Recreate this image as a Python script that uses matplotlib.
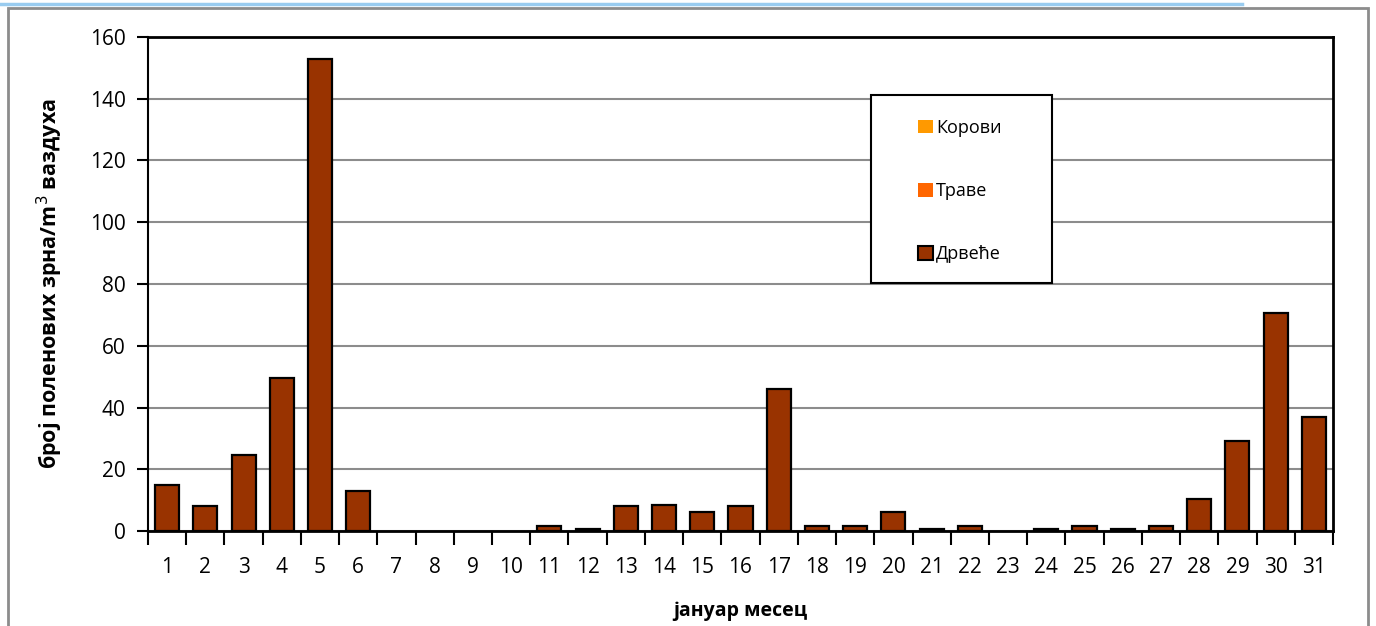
import matplotlib
matplotlib.use("Agg")
import matplotlib.pyplot as plt
import numpy as np
from matplotlib.patches import Rectangle, Patch
from matplotlib.lines import Line2D

plt.rcParams['font.family'] = ['Open Sans', 'DejaVu Sans']

days = [str(d) for d in range(1, 32)]
korovi = [0] * 31
trave = [0] * 31
drvece = [15, 8, 24.5, 49.5, 153, 13, 0, 0, 0, 0,
          1.5, 0.5, 8, 8.5, 6, 8, 46, 1.5, 1.5, 6,
          0.5, 1.5, 0, 0.5, 1.5, 0.5, 1.5, 10.5, 29, 70.5, 37]
series_names = ['Корови', 'Траве', 'Дрвеће']
series_colors = ['#FF9900', '#FF6600', '#993300']
yticks = [0, 20, 40, 60, 80, 100, 120, 140, 160]

W, H = 1376, 626
fig = plt.figure(figsize=(W / 100, H / 100), dpi=100)

# outer decorations
fig.add_artist(Line2D([0, 1242 / W], [1 - 4 / H, 1 - 4 / H], color='#99CCF0', lw=2.5,
                      transform=fig.transFigure))
fig.add_artist(Rectangle((8 / W, -0.05), (1368 - 8) / W, 1.05 - 8 / H, fill=False,
                         edgecolor='#8C8C8C', lw=2, transform=fig.transFigure))

ax = fig.add_axes([148 / W, 1 - 531 / H, (1333 - 148) / W, (531 - 37) / H])
x = np.arange(len(days))
bw = 0.63
ax.bar(x, korovi, bw, color=series_colors[0], linewidth=0, zorder=3)
ax.bar(x, trave, bw, bottom=korovi, color=series_colors[1], linewidth=0, zorder=3)
bottom3 = np.array(korovi) + np.array(trave)
lws = [1.6 if v > 0 else 0 for v in drvece]
ax.bar(x, drvece, bw, bottom=bottom3, color=series_colors[2], edgecolor='black',
       linewidth=lws, zorder=3)

ax.set_xlim(-0.5, len(days) - 0.5)
ax.set_ylim(0, 160)
ax.set_yticks(yticks)
ax.set_yticklabels([str(v) for v in yticks])
ax.set_xticks(x)
ax.set_xticklabels(days)
ax.set_xticks(np.arange(-0.5, len(days), 1), minor=True)
ax.tick_params(axis='x', which='major', length=0, pad=19, labelsize=15)
ax.tick_params(axis='x', which='minor', length=10, width=1.5, direction='out', color='black')
ax.tick_params(axis='y', length=8, width=1.5, direction='out', pad=8, labelsize=15)

ax.yaxis.grid(True, color='#8C8C8C', lw=1.5, zorder=0)
ax.set_axisbelow(True)
ax.spines['left'].set_linewidth(1.5)
for s in ['bottom', 'top', 'right']:
    ax.spines[s].set_linewidth(2)
for s in ax.spines.values():
    s.set_color('black')
    s.set_zorder(5)

ax.set_ylabel('број поленових зрна/m$^3$ ваздуха', fontsize=15.5, fontweight='bold', labelpad=18)
ax.set_xlabel('јануар месец', fontsize=14, fontweight='bold', labelpad=16)

# legend box
x0, y0 = 148, 531
aw, ah = 1333 - 148, 531 - 37
ax.add_patch(Rectangle(((871 - x0) / aw, (y0 - 283) / ah), 181 / aw, 188 / ah,
                       transform=ax.transAxes, facecolor='white', edgecolor='black',
                       lw=1.5, zorder=6))
handles = [Patch(facecolor=series_colors[0], edgecolor='none'),
           Patch(facecolor=series_colors[1], edgecolor='none'),
           Patch(facecolor=series_colors[2], edgecolor='black', lw=1.5)]
leg = ax.legend(handles, series_names, loc='center',
                bbox_to_anchor=((960 - x0) / aw, (y0 - 191) / ah),
                frameon=False, fontsize=13, handlelength=0.8, handleheight=0.8,
                handletextpad=0.2, labelspacing=2.5)
leg.set_zorder(7)

fig.savefig('out.png', dpi=100)
